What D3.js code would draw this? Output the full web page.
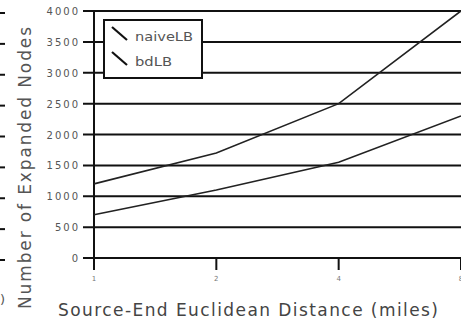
<!DOCTYPE html>
<html><head><meta charset="utf-8">
<script src="https://cdn.jsdelivr.net/npm/d3@7"></script>
<style>body{margin:0;background:#fff}svg{display:block}</style>
</head><body>
<script>
const distances = [1, 2, 4, 8];
const xTickLabels = ["1", "2", "4", "8"];
const yTicks = [0, 500, 1000, 1500, 2000, 2500, 3000, 3500, 4000];
const naiveLB = [1200, 1700, 2500, 4000];
const bdLB = [700, 1100, 1550, 2300];
const seriesNames = ["naiveLB", "bdLB"];

const W = 461, H = 321;
const svg = d3.select("body").append("svg").attr("width", W).attr("height", H);
const x = d3.scaleLog().base(2).domain([1, 8]).range([94, 461]);
const y = d3.scaleLinear().domain([0, 4000]).range([258, 11]);
const font = "DejaVu Sans, Verdana, sans-serif";

// gridlines
svg.append("g").selectAll("line").data(yTicks).join("line")
  .attr("x1", 83).attr("x2", W).attr("y1", d => y(d)).attr("y2", d => y(d))
  .attr("stroke", "#111").attr("stroke-width", 2);
// left edge fragments
svg.append("g").selectAll("line").data(yTicks).join("line")
  .attr("x1", 0).attr("x2", 5).attr("y1", d => y(d) + 2).attr("y2", d => y(d) + 2)
  .attr("stroke", "#111").attr("stroke-width", 2);
svg.append("text").attr("x", 0).attr("y", 304).attr("font-family", font)
  .attr("font-size", 13).attr("fill", "#555").text(")");

// y axis line
svg.append("line").attr("x1", x(1)).attr("x2", x(1)).attr("y1", 10).attr("y2", 270)
  .attr("stroke", "#111").attr("stroke-width", 2);
// x ticks
svg.append("g").selectAll("line").data(distances).join("line")
  .attr("x1", d => x(d)).attr("x2", d => x(d)).attr("y1", 258).attr("y2", 270)
  .attr("stroke", "#111").attr("stroke-width", 2);
svg.append("g").selectAll("text").data(distances).join("text")
  .attr("x", d => x(d)).attr("y", 281).attr("text-anchor", "middle")
  .attr("font-family", font).attr("font-size", 7).attr("fill", "#777")
  .text((d, i) => xTickLabels[i]);
// y tick labels
svg.append("g").selectAll("text").data(yTicks).join("text")
  .attr("x", 80).attr("y", d => y(d) + 4).attr("text-anchor", "end")
  .attr("font-family", font).attr("font-size", 10).attr("letter-spacing", 2)
  .attr("fill", "#555")
  .text(d => d);

// lines
const line = d3.line().x((d, i) => x(distances[i])).y(d => y(d));
[naiveLB, bdLB].forEach(s => {
  svg.append("path").datum(s).attr("d", line).attr("fill", "none")
    .attr("stroke", "#222").attr("stroke-width", 1.6);
});

// legend
const lg = svg.append("g");
lg.append("rect").attr("x", 104).attr("y", 20).attr("width", 98).attr("height", 58)
  .attr("fill", "#fff").attr("stroke", "#111").attr("stroke-width", 2);
const legendLens = [58, 37];
seriesNames.forEach((n, i) => {
  const yy = 27 + i * 25;
  lg.append("line").attr("x1", 112).attr("y1", yy).attr("x2", 127).attr("y2", yy + 13)
    .attr("stroke", "#111").attr("stroke-width", 2.2);
  lg.append("text").attr("x", 135).attr("y", yy + 14).attr("font-family", font)
    .attr("font-size", 12).attr("fill", "#555")
    .attr("textLength", legendLens[i]).attr("lengthAdjust", "spacingAndGlyphs").text(n);
});

// axis titles
svg.append("text").attr("transform", "translate(31,168) rotate(-90)")
  .attr("text-anchor", "middle").attr("font-family", font).attr("font-size", 17)
  .attr("fill", "#555").attr("textLength", 282).attr("lengthAdjust", "spacing")
  .text("Number of Expanded Nodes");
svg.append("text").attr("x", 248).attr("y", 316).attr("text-anchor", "middle")
  .attr("font-family", font).attr("font-size", 17).attr("fill", "#444")
  .attr("textLength", 380).attr("lengthAdjust", "spacing")
  .text("Source-End Euclidean Distance (miles)");
</script>
</body></html>
